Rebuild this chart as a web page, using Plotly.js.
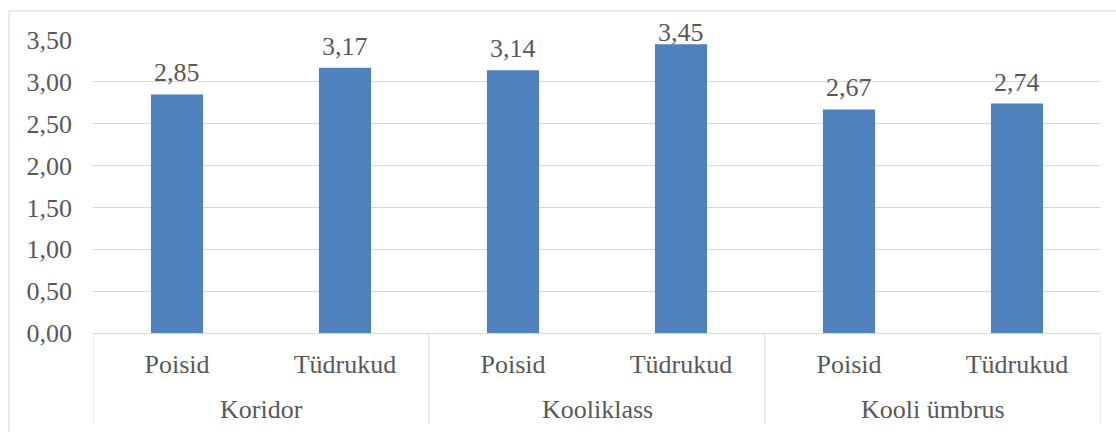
<!DOCTYPE html>
<html>
<head>
<meta charset="utf-8">
<script src="https://cdn.plot.ly/plotly-3.0.1.min.js"></script>
<style>html,body{margin:0;padding:0;background:#fff;}</style>
</head>
<body>
<div id="chart" style="width:1116px;height:432px;"></div>
<script>
const groups = ["Koridor", "Koridor", "Kooliklass", "Kooliklass", "Kooli ümbrus", "Kooli ümbrus"];
const subgroups = ["Poisid", "Tüdrukud", "Poisid", "Tüdrukud", "Poisid", "Tüdrukud"];
const values = [2.85, 3.17, 3.14, 3.45, 2.67, 2.74];
const yTicks = [0, 0.5, 1, 1.5, 2, 2.5, 3, 3.5];

const textColor = "#595959";
const gridColor = "#d9d9d9";
const fontFam = "Liberation Serif, serif";
const fontSize = 26;
const yMax = 3.5;
const plotTop = 40, plotH = 293;

const idx = subgroups.map((_, i) => i);

// group spans derived from the groups array
const spans = [];
groups.forEach((g, i) => {
  const last = spans[spans.length - 1];
  if (last && last.name === g) last.end = i;
  else spans.push({name: g, start: i, end: i});
});

const trace = {
  type: "bar",
  x: idx,
  y: values,
  marker: {color: "#4f81bd"},
  hoverinfo: "none",
  cliponaxis: false
};

// labels sit above bars but are kept inside the chart area (like the original)
function labelShift(v) {
  const barTopPx = plotTop + (yMax - v) * plotH / yMax;
  return Math.max(-5, Math.min(5, barTopPx - 54));
}

const valueAnnotations = values.map((v, i) => ({
  x: i, y: v, xref: "x", yref: "y",
  text: v.toFixed(2).replace(".", ","),
  showarrow: false, yanchor: "bottom", yshift: labelShift(v),
  font: {family: fontFam, size: fontSize, color: textColor}
}));

const groupAnnotations = spans.map(s => ({
  x: (s.start + s.end) / 2, y: -0.2594, xref: "x", yref: "paper",
  text: s.name, showarrow: false, yanchor: "middle",
  font: {family: fontFam, size: fontSize, color: textColor}
}));

const dividerLines = [];
spans.forEach((s, k) => {
  if (k === 0) dividerLines.push(s.start - 0.5);
  dividerLines.push(s.end + 0.5);
});
const dividerShapes = dividerLines.map(xv => ({
  type: "line", xref: "x", yref: "paper",
  x0: xv, x1: xv, y0: 0, y1: -0.31,
  line: {color: gridColor, width: 1}
}));

const layout = {
  width: 1116,
  height: 432,
  margin: {l: 93, r: 15, t: plotTop, b: 432 - plotTop - plotH},
  paper_bgcolor: "#fff",
  plot_bgcolor: "#fff",
  separators: ", ",
  showlegend: false,
  bargap: 0.69,
  font: {family: fontFam, size: fontSize, color: textColor},
  xaxis: {
    range: [-0.5, idx.length - 0.5],
    tickvals: idx,
    ticktext: subgroups,
    showline: true,
    linecolor: gridColor,
    linewidth: 1,
    ticks: "",
    showgrid: false,
    zeroline: false,
    ticklabelstandoff: 8,
    tickfont: {family: fontFam, size: fontSize, color: textColor}
  },
  yaxis: {
    range: [0, yMax],
    tickvals: yTicks,
    tickformat: ".2f",
    showgrid: true,
    gridcolor: gridColor,
    gridwidth: 1,
    zeroline: false,
    showline: false,
    ticks: "",
    ticklabelstandoff: 20,
    tickfont: {family: fontFam, size: fontSize, color: textColor}
  },
  annotations: valueAnnotations.concat(groupAnnotations),
  shapes: [{
    type: "rect",
    xref: "paper", yref: "paper",
    x0: -0.0833, x1: 1.02, y0: -0.37, y1: 1.099,
    line: {color: gridColor, width: 1},
    fillcolor: "rgba(0,0,0,0)",
    layer: "below"
  }].concat(dividerShapes)
};

Plotly.newPlot("chart", [trace], layout, {staticPlot: true, displayModeBar: false});
</script>
</body>
</html>
